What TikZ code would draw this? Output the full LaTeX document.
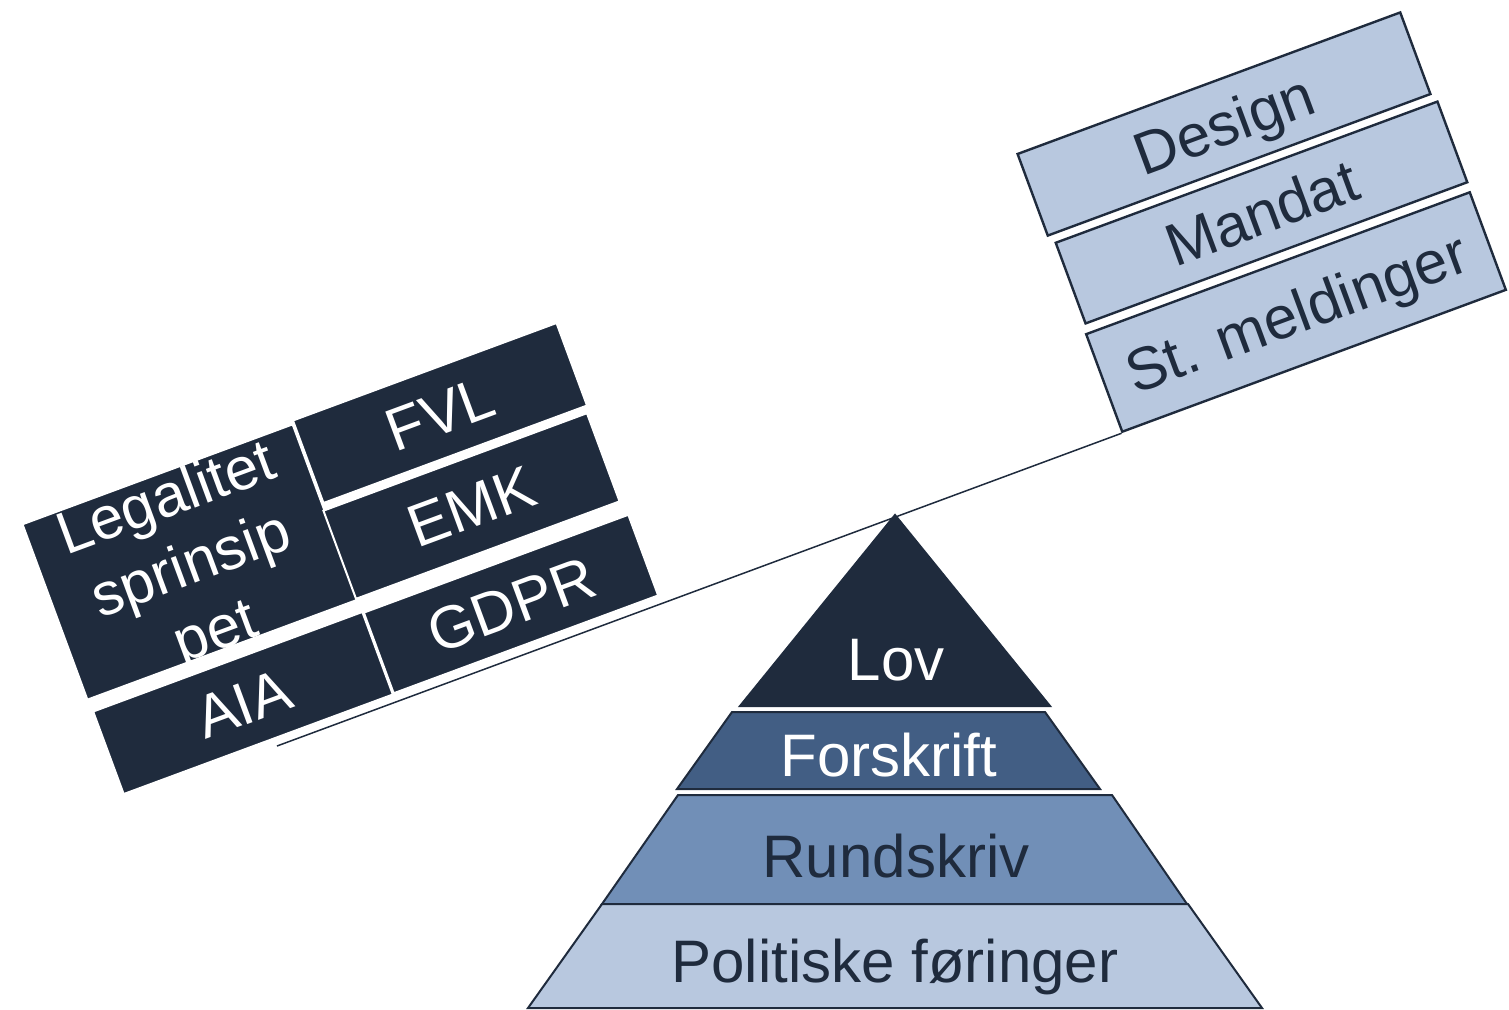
\documentclass[tikz,border=0pt]{standalone}
\usepackage{fontspec}
\setmainfont{Liberation Sans}
\usetikzlibrary{backgrounds}
\definecolor{navy}{HTML}{1F2B3D}
\definecolor{midblue}{HTML}{425E84}
\definecolor{softblue}{HTML}{718FB7}
\definecolor{paleblue}{HTML}{B8C8DF}
\begin{document}
\begin{tikzpicture}[x=0.5pt,y=-0.5pt,
  bigtext/.style={font=\fontsize{30}{35.5}\selectfont},
  darkbox/.style={bigtext, fill=navy, draw=white, line width=1pt, text=white,
    rotate=20.3, inner sep=2pt, text height=21.5pt, text depth=0pt},
  lightbox/.style={bigtext, fill=paleblue, draw=navy, line width=1.2pt, text=navy,
    rotate=20.3, inner sep=2pt, text height=21.5pt, text depth=0pt},
  layer/.style={draw=navy, line width=1pt},
  layertext/.style={bigtext, anchor=base, inner sep=0pt},
  beam/.style={draw=navy, line width=0.75pt}]
\useasboundingbox (0,0) rectangle (1509,1009);

% pyramid
\draw[layer, fill=navy] (895,515) -- (1050,706) -- (740,706) -- cycle;
\draw[layer, fill=midblue] (732,712) -- (1045,712) -- (1100,789) -- (677,789) -- cycle;
\draw[layer, fill=softblue] (678,795) -- (1112,795) -- (1187,904) -- (602,904) -- cycle;
\draw[layer, fill=paleblue] (602,904) -- (1188,904) -- (1262,1008) -- (528,1008) -- cycle;
\node[layertext, text=white] (lov) at (896,680) {Lov};
\node[layertext, text=white] (forskrift) at (889,776) {Forskrift};
\node[layertext, text=navy] (rundskriv) at (896,877) {Rundskriv};
\node[layertext, text=navy] (politiske) at (895,982) {Politiske føringer};

% right pan
\node[lightbox, minimum width=204pt, minimum height=43.5pt] (design) at (1224,124) {Design};
\node[lightbox, minimum width=203.5pt, minimum height=43pt] (mandat) at (1261.5,212.5) {Mandat};
\node[lightbox, minimum width=204.5pt, minimum height=52pt] (stm) at (1296,312) {St. meldinger};

% left pan
\node[darkbox, minimum width=144pt, minimum height=93.5pt] (leg) at (190,562) {};
\node[bigtext, text=white, rotate=20.3, align=center, inner sep=0pt] (legtext) at (192,568) {Legalitet\\sprinsip\\pet};
\node[darkbox, minimum width=143.5pt, minimum height=44pt] (aia) at (243,703) {AIA};
\node[darkbox, minimum width=140.5pt, minimum height=44pt] (fvl) at (440,413) {FVL};
\node[darkbox, minimum width=140.5pt, minimum height=47pt] (emk) at (471.5,506) {EMK};
\node[darkbox, minimum width=141pt, minimum height=43pt] (gdpr) at (511,604) {GDPR};

% beam
\coordinate (beamL) at (277,746);
\begin{pgfonlayer}{background}
\draw[beam] (beamL) -- (stm.south west);
\end{pgfonlayer}
\end{tikzpicture}
\end{document}
